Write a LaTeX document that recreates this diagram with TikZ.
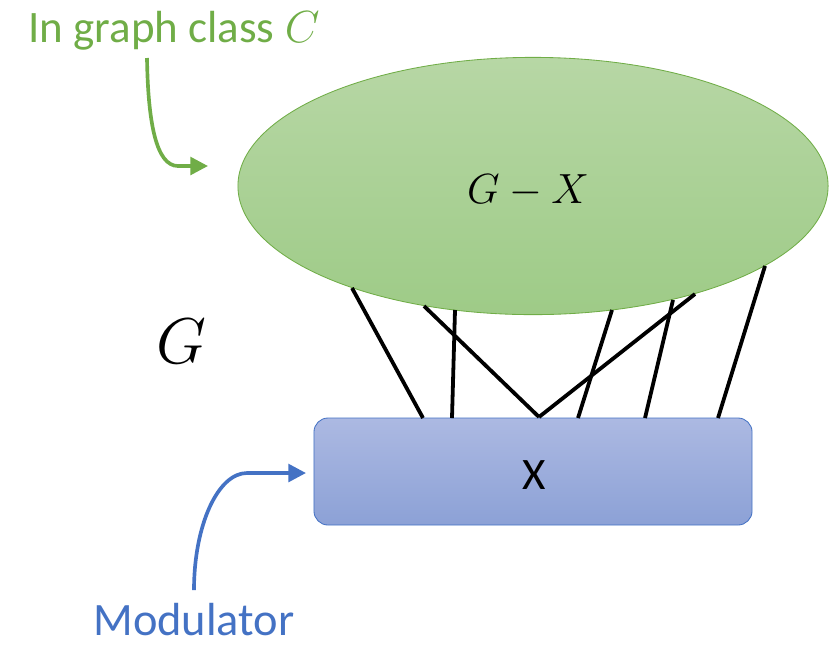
\RequirePackage{fix-cm}
\documentclass[tikz,border=0pt]{standalone}
\usepackage{fontspec}
\setmainfont{Carlito}
\usetikzlibrary{arrows.meta,shapes.geometric}
\definecolor{classgreen}{RGB}{112,173,71}
\definecolor{modblue}{RGB}{68,114,196}
\definecolor{resttop}{RGB}{183,215,165}
\definecolor{restbot}{RGB}{158,203,135}
\definecolor{modtop}{RGB}{172,185,226}
\definecolor{modbot}{RGB}{140,161,214}

\begin{document}
\begin{tikzpicture}[x=0.025cm,y=-0.025cm,
  rest/.style={ellipse,draw=classgreen,line width=0.6pt,top color=resttop,bottom color=restbot,
    minimum width=14.75cm,minimum height=6.43cm,inner sep=0pt},
  modbox/.style={draw=modblue,line width=0.6pt,rounded corners=10pt,top color=modtop,bottom color=modbot,
    minimum width=10.95cm,minimum height=2.675cm,inner sep=0pt},
  lab/.style={inner sep=0pt,anchor=base,font=\fontsize{#1}{#1}\selectfont},
  edge/.style={line width=2.7pt,black},
  note/.style={-{Triangle[length=4.4mm,width=4.4mm]},line width=2.6pt,draw=#1}]
\useasboundingbox (0,0) rectangle (832,647);
\node[rest] (gx) at (533,186) {};
\node[lab=30] (gxlab) at (528,203) {$G-X$};
\node[modbox] (mod) at (533,471.5) {};
\node[lab=32] (xlab) at (534,489) {X};
\node[lab=46] (glab) at (181,363) {$G$};
\node[lab=32,text=classgreen] (cls) at (174,42) {In graph class $C$};
\node[lab=33,text=modblue] (modlab) at (194,635) {Modulator};
% ends of the edges on the ellipse and on the box
\coordinate (e1) at (352,288);
\coordinate (e2) at (424,306);
\coordinate (e3) at (455,310);
\coordinate (e4) at (612,310);
\coordinate (e5) at (673,300);
\coordinate (e6) at (695,294);
\coordinate (e7) at (765,266);
\coordinate (x1) at (423,418);
\coordinate (x2) at (452,418);
\coordinate (x3) at (539,417);
\coordinate (x4) at (578,418);
\coordinate (x5) at (645,418);
\coordinate (x6) at (718,418);
\draw[edge] (e1) -- (x1); \draw[edge] (e2) -- (x3); \draw[edge] (e3) -- (x2);
\draw[edge] (e4) -- (x4); \draw[edge] (e5) -- (x5); \draw[edge] (e6) -- (x3);
\draw[edge] (e7) -- (x6);
% pointers
\coordinate (gstart) at (147,58);
\coordinate (gtip) at (208,166);
\coordinate (mstart) at (194,590);
\coordinate (mtip) at (306,473);
\draw[note=classgreen] (gstart) .. controls (148,122) and (156,166) .. (178,166) -- (gtip);
\draw[note=modblue] (mstart) .. controls (194,525) and (218,473) .. (247,473) -- (mtip);
\end{tikzpicture}
\end{document}
